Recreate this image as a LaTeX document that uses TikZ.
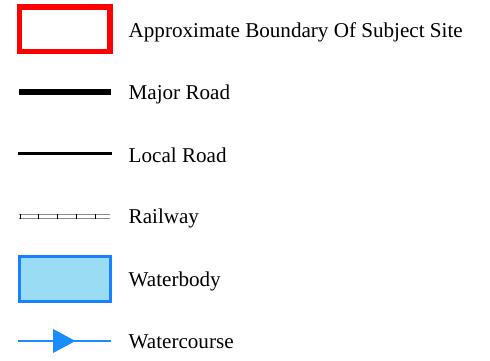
\documentclass[tikz,border=0pt]{standalone}
\usepackage{fontspec}
\setmainfont{Liberation Serif}
\definecolor{siteRed}{HTML}{FF0000}
\definecolor{waterEdge}{HTML}{1A80FF}
\definecolor{waterFill}{HTML}{99DCF3}
\definecolor{streamBlue}{HTML}{1A8CFF}
\definecolor{railGray}{HTML}{8C8C8C}
\begin{document}
\begin{tikzpicture}[x=1pt,y=-1pt,
  lbl/.style={anchor=base west,inner sep=0pt,font=\fontsize{21.1}{24}\selectfont}]
\useasboundingbox (0,0) rectangle (490,360);
% boundary
\draw[siteRed,line width=5.5pt] (19.5,7) rectangle (110,51.5);
% major road
\draw[black,line width=5.5pt] (19,92) -- (111,92);
% local road
\draw[black,line width=2.2pt] (18,153.5) -- (112,153.5);
% railway
\draw[railGray,line width=1.4pt] (19,214.3) -- (110,214.3);
\draw[railGray,line width=1.4pt] (19,218.6) -- (110,218.6);
\foreach \xx in {20.3,38.5,57.5,76,95.3}
  \draw[black,line width=0.9pt] (\xx,214.3) -- (\xx,218.6);
% waterbody
\draw[waterEdge,fill=waterFill,line width=3pt] (19.5,256.5) rectangle (110.5,301.5);
% watercourse
\draw[streamBlue,line width=2.5pt] (18,341) -- (111,341);
\fill[streamBlue] (53,329) -- (75.5,341) -- (53,353) -- cycle;
% labels
\node[lbl] (t1) at (128.5,37) {Approximate Boundary Of Subject Site};
\node[lbl] (t2) at (128.5,99) {Major Road};
\node[lbl] (t3) at (128.5,162) {Local Road};
\node[lbl] (t4) at (128.5,223) {Railway};
\node[lbl] (t5) at (128.5,286) {Waterbody};
\node[lbl] (t6) at (128.5,348) {Watercourse};
\end{tikzpicture}
\end{document}
